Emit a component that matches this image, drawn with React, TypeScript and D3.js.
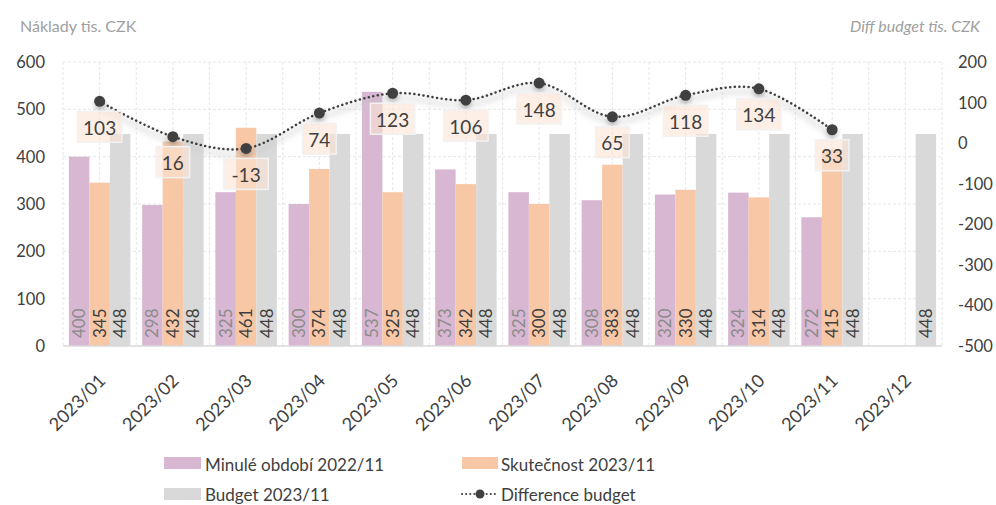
import React from "react";
import * as d3 from "d3";

const categories = ["2023/01","2023/02","2023/03","2023/04","2023/05","2023/06","2023/07","2023/08","2023/09","2023/10","2023/11","2023/12"];
const prevValues: (number | null)[] = [400,298,325,300,537,373,325,308,320,324,272,null];
const actualValues: (number | null)[] = [345,432,461,374,325,342,300,383,330,314,415,null];
const budgetValues: (number | null)[] = [448,448,448,448,448,448,448,448,448,448,448,448];
const diffValues: (number | null)[] = [103,16,-13,74,123,106,148,65,118,134,33,null];
const leftTicks = [0,100,200,300,400,500,600];
const rightTicks = [-500,-400,-300,-200,-100,0,100,200];

const seriesKeys = ["prev","actual","budget"];
const seriesNames = ["Minulé období 2022/11","Skutečnost 2023/11","Budget 2023/11","Difference budget"];
const colors: Record<string, string> = { prev: "#D8B7D2", actual: "#F8C8A6", budget: "#D9D9D9" };

const FONT = "Lato, 'Open Sans', sans-serif";
const W = 996, H = 505;
const L = 63, R = 942, T = 62, B = 346;

export default function App() {
  const x = d3.scaleBand<string>().domain(categories).range([L, R]).paddingInner(0).paddingOuter(0);
  const bw = x.bandwidth();
  const xs = d3.scaleBand<string>().domain(seriesKeys).range([0, bw]).paddingInner(0).paddingOuter(0.287);
  const yL = d3.scaleLinear().domain([0, 600]).range([B, T]);
  const yR = d3.scaleLinear().domain([-500, 200]).range([B, T]);

  const data = categories.map((c, i) => ({
    c,
    prev: prevValues[i],
    actual: actualValues[i],
    budget: budgetValues[i],
    diff: diffValues[i],
  }));

  const linePts = data.filter(d => d.diff != null).map(d => [x(d.c)! + bw / 2, yR(d.diff as number)] as [number, number]);
  const line = d3.line().curve(d3.curveCatmullRom.alpha(0))(linePts) || "";

  const vGrid: number[] = [];
  for (let i = 0; i <= categories.length * 2; i++) vGrid.push(L + (i * bw) / 2);

  const grey = "#404040";

  return (
    <svg width={W} height={H} style={{ position: "absolute", left: 0, top: 0, background: "#fff" }} fontFamily={FONT}>
      <defs>
        <filter id="shadow" x="-50%" y="-50%" width="200%" height="200%">
          <feDropShadow dx="0" dy="3" stdDeviation="2.5" floodColor="#000" floodOpacity="0.25" />
        </filter>
        <filter id="lineShadow" x="-10%" y="-50%" width="120%" height="200%">
          <feGaussianBlur stdDeviation="3" />
        </filter>
      </defs>
      <text x={20} y={32} fontSize={16} fill="#A0A0A0">Náklady tis. CZK</text>
      <text x={980} y={32} fontSize={16} fill="#A0A0A0" fontStyle="italic" textAnchor="end">Diff budget tis. CZK</text>

      {/* grid */}
      {leftTicks.filter(t => t > 0).map(t => (
        <line key={"h" + t} x1={L} x2={R} y1={yL(t)} y2={yL(t)} stroke="#E6E6E6" strokeDasharray="3 2" strokeWidth={1} />
      ))}
      {vGrid.map((v, i) => (
        <line key={"v" + i} x1={v} x2={v} y1={T} y2={B} stroke="#E6E6E6" strokeDasharray="3 2" strokeWidth={1} />
      ))}

      {/* bars */}
      {data.map(d => (
        <g key={d.c} transform={`translate(${x(d.c)},0)`}>
          {seriesKeys.map(k => {
            const v = (d as any)[k] as number | null;
            if (v == null) return null;
            return <rect key={k} x={xs(k)} y={yL(v)} width={xs.bandwidth()} height={B - yL(v)} fill={colors[k]} />;
          })}
        </g>
      ))}
      <line x1={L} x2={R} y1={B} y2={B} stroke="#D9D9D9" strokeWidth={1.5} />

      {/* bar labels */}
      {data.map(d => (
        <g key={"l" + d.c} transform={`translate(${x(d.c)},0)`}>
          {seriesKeys.map(k => {
            const v = (d as any)[k] as number | null;
            if (v == null) return null;
            const cx = xs(k)! + xs.bandwidth() / 2;
            return (
              <text key={k} transform={`translate(${cx + 6},${B - 8}) rotate(-90)`} fontSize={17} fill={k === "prev" ? "#8C8C8C" : grey}>
                {v}
              </text>
            );
          })}
        </g>
      ))}

      {/* line */}
      <path d={line} fill="none" stroke="#C8C8C8" strokeWidth={5} opacity={0.5} filter="url(#lineShadow)" transform="translate(0,5)" />
      <path d={line} fill="none" stroke={grey} strokeWidth={2.5} strokeDasharray="0.1 4.5" strokeLinecap="round" />
      {linePts.map((p, i) => (
        <circle key={"m" + i} cx={p[0]} cy={p[1]} r={5.5} fill={grey} filter="url(#shadow)" />
      ))}
      {data.filter(d => d.diff != null).map(d => {
        const cx = x(d.c)! + bw / 2;
        const cy = yR(d.diff as number) + 26;
        const txt = String(d.diff);
        const w = txt.length * 10.8 + 12;
        return (
          <g key={"dl" + d.c}>
            <rect x={cx - w / 2} y={cy - 16} width={w} height={31} fill="#FBE5D6" fillOpacity={0.6} stroke="#F2F2F2" strokeWidth={1.5} />
            <text x={cx} y={cy} fontSize={19} fill={grey} textAnchor="middle" dominantBaseline="central">{txt}</text>
          </g>
        );
      })}

      {/* axes */}
      {leftTicks.map(t => (
        <text key={"lt" + t} x={45} y={yL(t)} fontSize={16.5} fill={grey} textAnchor="end" dominantBaseline="central">{t}</text>
      ))}
      {rightTicks.map(t => (
        <text key={"rt" + t} x={958} y={yR(t)} fontSize={16.5} fill={grey} textAnchor="start" dominantBaseline="central">{t}</text>
      ))}
      {categories.map(c => (
        <text key={"x" + c} transform={`translate(${x(c)! + bw / 2 + 2},${377}) rotate(-45)`} fontSize={18} fill={grey} textAnchor="end" dominantBaseline="central">{c}</text>
      ))}

      {/* legend */}
      <g fontSize={17} fill={grey}>
        <rect x={164} y={457} width={37} height={12} fill={colors.prev} />
        <text x={205} y={464} dominantBaseline="central">{seriesNames[0]}</text>
        <rect x={462} y={457} width={36} height={12} fill={colors.actual} />
        <text x={501} y={464} dominantBaseline="central">{seriesNames[1]}</text>
        <rect x={164} y={488} width={37} height={12} fill={colors.budget} />
        <text x={205} y={494} dominantBaseline="central">{seriesNames[2]}</text>
        <line x1={462} x2={498} y1={494} y2={494} stroke={grey} strokeWidth={2} strokeDasharray="0.1 4" strokeLinecap="round" />
        <circle cx={480} cy={494} r={4.5} fill={grey} />
        <text x={501} y={494} dominantBaseline="central">{seriesNames[3]}</text>
      </g>
    </svg>
  );
}
